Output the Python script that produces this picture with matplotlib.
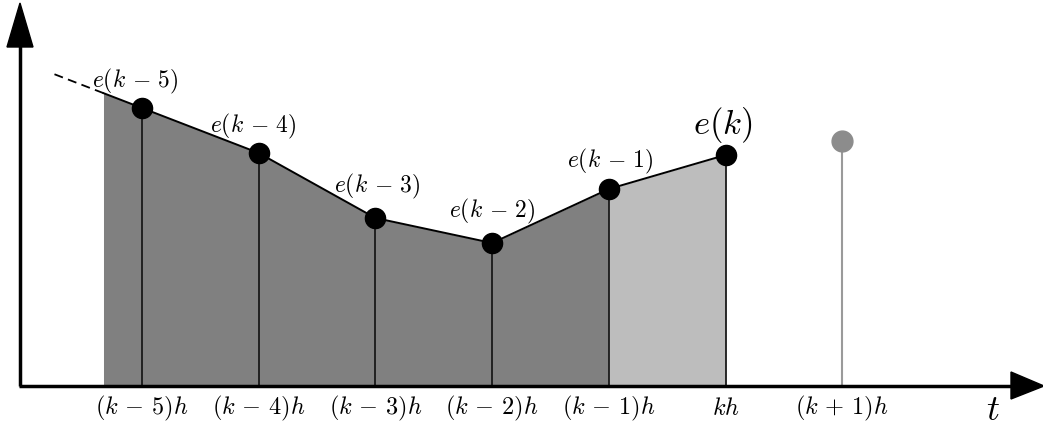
import numpy as np
import matplotlib
matplotlib.use("Agg")
import matplotlib.pyplot as plt
from matplotlib.patches import Polygon

plt.rcParams['mathtext.fontset'] = 'cm'

# ---- data ----
n_idx = [-5, -4, -3, -2, -1, 0]           # sample indices relative to k
e_vals = [2.78, 2.33, 1.68, 1.43, 1.97, 2.31]  # e(k-5) ... e(k)
n_next = 1
e_next = 2.45                              # predicted e(k+1)
point_labels = [r'$e(k\,-\,5)$', r'$e(k\,-\,4)$', r'$e(k\,-\,3)$', r'$e(k\,-\,2)$',
                r'$e(k\,-\,1)$', r'$e(k)$']
tick_labels = [r'$(k\,-\,5)h$', r'$(k\,-\,4)h$', r'$(k\,-\,3)h$', r'$(k\,-\,2)h$',
               r'$(k\,-\,1)h$', r'$kh$', r'$(k\,+\,1)h$']

# ---- layout (pixels) ----
W, H = 1043, 428
X0, DX = 142.0, 116.7   # pixel x of n=-5, spacing
Y0, DY = 386.0, 100.0   # pixel y of e=0, pixels per unit

fig = plt.figure(figsize=(W / 100, H / 100), dpi=100)
ax = fig.add_axes([0, 0, 1, 1])
ax.set_xlim(-5 - X0 / DX, -5 + (W - X0) / DX)
ax.set_ylim(-(H - Y0) / DY, Y0 / DY)
ax.axis('off')

def frac(px, py):
    return (px / W, 1 - py / H)

n = np.array(n_idx, dtype=float)
e = np.array(e_vals, dtype=float)

# extension of first segment (dashed + shading start)
slope0 = (e[1] - e[0]) / (n[1] - n[0])
n_shade = -5.33
n_dash = -5.75
e_shade = e[0] + slope0 * (n_shade - n[0])
e_dash = e[0] + slope0 * (n_dash - n[0])

xs = np.concatenate([[n_shade], n])
ys = np.concatenate([[e_shade], e])
# dark shading up to k-1
ax.fill_between(xs[:-1], 0, ys[:-1], color='#808080', lw=0, zorder=1)
# light shading from k-1 to k
ax.fill_between(n[-2:], 0, e[-2:], color='#bdbdbd', lw=0, zorder=1)

# dashed extrapolation
ax.plot([n_dash, n_shade], [e_dash, e_shade], color='black', lw=1.3,
        dashes=(5, 3), zorder=3)
# solid polyline
ax.plot(xs, ys, color='black', lw=1.4, zorder=3)

# stems
for xi, yi in zip(n, e):
    ax.plot([xi, xi], [0, yi], color='#1a1a1a', lw=1.3, zorder=2)
ax.plot([n_next, n_next], [0, e_next], color='#9a9a9a', lw=1.5, zorder=2)

# markers
ax.plot(n, e, 'o', color='black', ms=14.5, zorder=4)
ax.plot([n_next], [e_next], 'o', color='#8c8c8c', ms=15, zorder=4)

# axes lines with arrowheads
axis_kw = dict(color='black', lw=2.5, transform=ax.transAxes, zorder=5, solid_capstyle='butt')
ax.plot(*zip(frac(20, 386), frac(20, 40)), **axis_kw)
ax.plot(*zip(frac(19, 386), frac(1015, 386)), **axis_kw)
ax.add_patch(Polygon([frac(20, 3), frac(7, 47), frac(33, 47)], closed=True,
                     color='black', transform=ax.transAxes, zorder=6))
ax.add_patch(Polygon([frac(1044, 386), frac(1011, 372), frac(1011, 399)], closed=True,
                     color='black', transform=ax.transAxes, zorder=6))

# point labels
lab_off = [(-7, -27), (-5, -27), (2, -32), (0, -32), (2, -28), (-3, -30)]
lab_size = [17, 17, 17, 17, 17, 25]
for xi, yi, lbl, (ox, oy), fs in zip(n, e, point_labels, lab_off, lab_size):
    ax.annotate(lbl, (xi, yi), xytext=(ox * 0.72, -oy * 0.72), textcoords='offset points',
                ha='center', va='center', fontsize=fs, zorder=7)

# tick labels
tick_pos = list(n) + [n_next]
for xi, lbl in zip(tick_pos, tick_labels):
    ax.text(xi, -(408 - Y0) / DY, lbl, ha='center', va='center', fontsize=17.5)

ax.text(*frac(993, 410), r'$t$', transform=ax.transAxes, ha='center', va='center', fontsize=26)

fig.savefig('out.png', dpi=100)
